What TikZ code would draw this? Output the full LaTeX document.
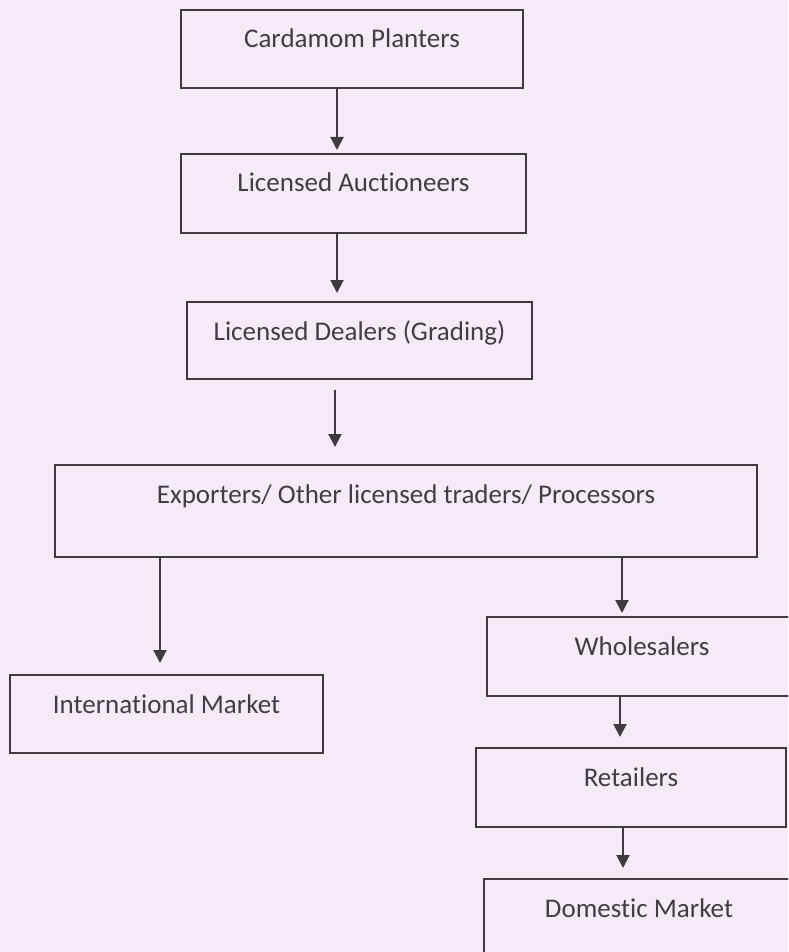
\documentclass[tikz,border=0pt]{standalone}
\usepackage{fontspec}
\setmainfont{Carlito}[Ligatures={NoCommon}]
\usetikzlibrary{arrows.meta}
\definecolor{bgc}{RGB}{244,235,246}
\definecolor{linec}{RGB}{62,58,62}
\definecolor{textc}{RGB}{64,62,66}
\begin{document}
\begin{tikzpicture}[x=1pt,y=-1pt,
  flowbox/.style={draw=linec,line width=2pt,rectangle,anchor=north west,
    inner sep=0pt,outer sep=0pt,text=textc,font=\fontsize{27}{30}\selectfont,
    text height=38pt,align=center},
  arr/.style={draw=linec,line width=2pt,-{Triangle[length=13pt,width=13pt]}}]
\clip (0,0) rectangle (788,952);
\fill[bgc] (0,0) rectangle (788,952);
\node[flowbox,minimum width=342pt,text depth=40pt] (p1) at (181,10) {Cardamom Planters};
\node[flowbox,minimum width=345pt,text depth=41pt] (p2) at (181,154) {Licensed Auctioneers};
\node[flowbox,minimum width=345pt,text depth=39pt] (p3) at (187,302) {Licensed Dealers (Grading)};
\node[flowbox,minimum width=702pt,text depth=54pt] (p4) at (55,465) {Exporters/ Other licensed traders/ Processors};
\node[flowbox,minimum width=313pt,text depth=40pt] (p5) at (10,675) {International Market};
\node[flowbox,minimum width=310pt,text depth=41pt] (p6) at (487,617) {Wholesalers};
\node[flowbox,minimum width=310pt,text depth=41pt] (p7) at (476,748) {Retailers};
\node[flowbox,minimum width=310pt,text depth=50pt] (p8) at (484,879) {Domestic Market};
\draw[arr,shorten >=4pt] (p1.south -| 337,0) -- (p2.north -| 337,0);
\draw[arr,shorten >=9pt] (p2.south -| 337,0) -- (p3.north -| 337,0);
\draw[arr,shorten <=11pt,shorten >=18pt] (p3.south -| 335,0) -- (p4.north -| 335,0);
\draw[arr,shorten >=12pt] (p4.south -| 160,0) -- (p5.north -| 160,0);
\draw[arr,shorten >=4pt] (p4.south -| 622,0) -- (p6.north -| 622,0);
\draw[arr,shorten >=11pt] (p6.south -| 620,0) -- (p7.north -| 620,0);
\draw[arr,shorten >=11pt] (p7.south -| 623,0) -- (p8.north -| 623,0);
\end{tikzpicture}
\end{document}
